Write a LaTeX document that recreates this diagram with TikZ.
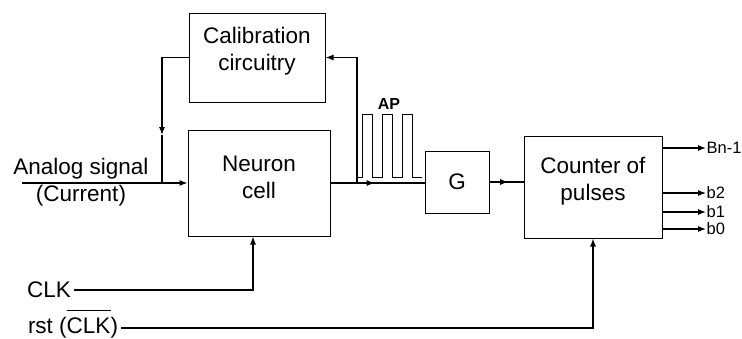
\documentclass[tikz,border=0pt]{standalone}
\usepackage{fontspec}
\setmainfont{Liberation Sans}
\usepackage{tikz}
\usetikzlibrary{arrows.meta,positioning,decorations.markings,calc}
\newcommand{\barclk}{$\overline{\mbox{CLK}\rule{0pt}{21pt}}$}

\begin{document}
\begin{tikzpicture}[x=1pt,y=-1pt,
  blk/.style={draw,line width=1pt,inner sep=0pt},
  txt/.style={align=center,font=\fontsize{22.5}{27}\selectfont},
  wire/.style={line width=1.1pt},
  sig/.style={wire,-{Latex[length=8pt,width=6pt]}},
  midarr/.style={wire,postaction={decorate},
     decoration={markings,mark=at position #1 with {\arrow{Latex[length=8pt,width=6pt]}}}},
  lbl/.style={font=\fontsize{22.5}{27}\selectfont,inner sep=3pt}]
  \useasboundingbox (0,0) rectangle (742,338);

  % Blocks
  \node[blk,minimum width=136pt,minimum height=89pt] (calib) at (257,57.5) {};
  \node[txt] (calibtxt) at ([yshift=6pt]calib.center) {Calibration\\circuitry};
  \node[blk,minimum width=142pt,minimum height=106pt] (neuron) at (259,183) {};
  \node[txt] (neurontxt) at ([yshift=6pt]neuron.center) {Neuron\\cell};
  \node[blk,txt,minimum width=64pt,minimum height=62pt] (gate) at (457,182) {G};
  \node[blk,minimum width=138pt,minimum height=102pt] (counter) at (593,187) {};
  \node[txt] (countertxt) at ([yshift=6pt]counter.center) {Counter of\\pulses};

  % Analog input
  \coordinate (ain) at (22,183);
  \node[lbl,align=center] (alabel) at (81,182) {Analog signal\\(Current)};
  \draw[sig] (ain) -- (neuron.west);

  % Calibration loop
  \coordinate (tap) at (357,183);
  \coordinate (fbtip) at (162,135);
  \coordinate (fbjoin) at (162,183);
  \draw[sig] (tap) |- (calib.east);
  \draw[sig] (calib.west) -| (fbtip);
  \draw[wire] (fbtip) -- (fbjoin);

  % Spike train (AP)
  \draw[line width=0.8pt] (357,177)
    \foreach \p in {362,382,402}{ -- (\p,177) -- (\p,114) -- (\p+10,114) -- (\p+10,177)} -- (422,177);
  \node[font=\bfseries\fontsize{16}{18}\selectfont] (ap) at (389,104) {AP};

  % Main path
  \draw[midarr=0.47] (neuron.east) -- (neuron.east -| gate.west);
  \draw[midarr=0.55] (gate.east) -- (gate.east -| counter.west);

  % Counter outputs
  \foreach \nm/\y/\t in {bn/148/Bn-1, btwo/193/b2, bone/212/b1, bzero/229/b0}{
    \node[anchor=west,inner sep=0.5pt,font=\fontsize{16.5}{20}\selectfont] (\nm) at (706,\y) {\t};
    \draw[sig] (counter.east |- \nm.west) -- (\nm.west);
  }

  % Clock and reset
  \node[lbl] (clk) at (49,290) {CLK};
  \draw[sig] (clk.east) -| ([xshift=-6pt]neuron.south);
  \node[lbl,anchor=base] (rst) at (73,333) {rst (\barclk)};
  \draw[sig] (rst.east |- 0,328) -| (counter.south);
\end{tikzpicture}
\end{document}
